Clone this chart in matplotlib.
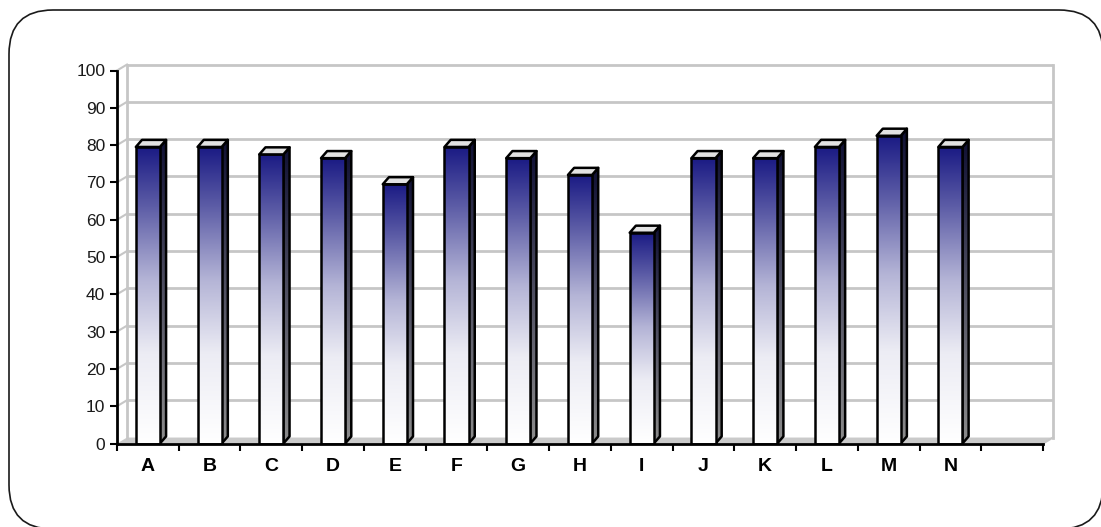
import numpy as np
import matplotlib
matplotlib.use('Agg')
import matplotlib.pyplot as plt
from matplotlib.colors import LinearSegmentedColormap
from matplotlib.patches import Polygon, Rectangle, FancyBboxPatch

plt.rcParams['font.family'] = ['Liberation Sans', 'DejaVu Sans']

categories = ['A', 'B', 'C', 'D', 'E', 'F', 'G', 'H', 'I', 'J', 'K', 'L', 'M', 'N']
values = [79.5, 79.5, 77.5, 76.5, 69.5, 79.5, 76.5, 72, 56.5, 76.5, 76.5, 79.5, 82.5, 79.5]
y_ticks = [0, 10, 20, 30, 40, 50, 60, 70, 80, 90, 100]
n_slots = 15  # one empty slot after the last category

# 3d look: wall depth and bar depth in data units
wall_dx, wall_dy = 0.162, 1.6
bar_dx, bar_dy = 0.1, 1.9
bar_w = 0.39

front_cmap = LinearSegmentedColormap.from_list(
    'front', [(0.0, '#ffffff'), (0.3, '#ececf4'), (0.55, '#b4b4d6'),
              (0.8, '#5c5ca6'), (1.0, '#1a1a84')])
side_cmap = LinearSegmentedColormap.from_list(
    'side', [(0.0, '#8c8c8c'), (0.5, '#505062'), (1.0, '#101034')])
grad = np.linspace(1, 0, 256).reshape(-1, 1)

W, H = 1101, 527
fig = plt.figure(figsize=(W / 100, H / 100), dpi=100)

# rounded frame around the whole chart, running off the right and bottom edges;
# flattened to a polygon so clipping at the canvas edge stays clean
bg = fig.add_axes([0, 0, 1, 1], zorder=-1)
bg.set_xlim(0, W)
bg.set_ylim(0, H)
bg.axis('off')
box = FancyBboxPatch((9, -2), 1094, 519, boxstyle='round,pad=0,rounding_size=44')
frame_pts = np.vstack(box.get_path().to_polygons(closed_only=False))
bg.add_patch(Polygon(frame_pts, closed=True, fill=False, edgecolor='#1a1a1a', linewidth=1.2))

ax = fig.add_axes([117 / W, (H - 443.5) / H, 926 / W, 373 / H])
ax.set_xlim(0, n_slots)
ax.set_ylim(0, 100)
ax.patch.set_visible(False)

wall_col = '#c6c6c6'
# floor
ax.add_patch(Polygon([(0, 0), (n_slots, 0), (n_slots + wall_dx, wall_dy), (wall_dx, wall_dy)],
                     closed=True, facecolor='#cacaca', edgecolor='none', zorder=1, clip_on=False))
# back wall gridlines and frame
for v in y_ticks[1:]:
    ax.plot([wall_dx, n_slots + wall_dx], [v + wall_dy, v + wall_dy], color=wall_col,
            lw=2, zorder=1, clip_on=False, solid_capstyle='butt')
    ax.plot([0, wall_dx], [v, v + wall_dy], color=wall_col, lw=1.5, zorder=1, clip_on=False)
ax.plot([wall_dx, wall_dx], [wall_dy, 100 + wall_dy], color=wall_col, lw=2, zorder=1, clip_on=False)
ax.plot([n_slots + wall_dx, n_slots + wall_dx], [wall_dy, 100 + wall_dy], color=wall_col,
        lw=2, zorder=1, clip_on=False)
ax.plot([n_slots, n_slots + wall_dx], [0, wall_dy], color=wall_col, lw=1.5, zorder=1, clip_on=False)

# bars: front face, side face, top face
for i, h in enumerate(values):
    x0 = i + 0.5 - bar_w / 2
    x1 = x0 + bar_w
    z = 4 + i * 0.01

    side = Polygon([(x1, 0), (x1 + bar_dx, bar_dy), (x1 + bar_dx, h + bar_dy), (x1, h)],
                   closed=True, facecolor='none', edgecolor='black', lw=1.8, zorder=z + 0.002,
                   joinstyle='round')
    im = ax.imshow(grad, extent=(x1, x1 + bar_dx, 0, h + bar_dy), cmap=side_cmap,
                   vmin=0, vmax=1, aspect='auto', zorder=z, interpolation='bilinear')
    clip = Polygon(side.get_xy(), closed=True, transform=ax.transData)
    im.set_clip_path(clip)
    ax.add_patch(side)

    im = ax.imshow(grad, extent=(x0, x1, 0, h), cmap=front_cmap, vmin=0, vmax=1,
                   aspect='auto', zorder=z + 0.003, interpolation='bilinear')
    ax.add_patch(Rectangle((x0, 0), bar_w, h, facecolor='none', edgecolor='black',
                           lw=1.8, zorder=z + 0.004, joinstyle='round'))

    ax.add_patch(Polygon([(x0, h), (x0 + bar_dx, h + bar_dy), (x1 + bar_dx, h + bar_dy), (x1, h)],
                         closed=True, facecolor='#e2e2e2', edgecolor='black', lw=1.8,
                         zorder=z + 0.005, joinstyle='round'))

ax.set_xlim(0, n_slots)
ax.set_ylim(0, 100)

# axes lines and ticks
for s in ['top', 'right']:
    ax.spines[s].set_visible(False)
for s in ['left', 'bottom']:
    ax.spines[s].set_linewidth(2)
    ax.spines[s].set_zorder(10)

ax.set_yticks(y_ticks)
ax.tick_params(axis='y', direction='out', length=5, width=1.5, pad=3.5,
               labelsize=12.5, labelcolor='#1a1a1a')
ax.set_xticks(np.arange(len(categories)) + 0.5)
ax.set_xticklabels(categories, fontweight='bold', fontsize=14)
ax.set_xticks(np.arange(n_slots + 1), minor=True)
ax.tick_params(axis='x', which='major', length=0, pad=10.5)
ax.tick_params(axis='x', which='minor', direction='out', length=5, width=1.5)

fig.savefig('out.png', dpi=100)
